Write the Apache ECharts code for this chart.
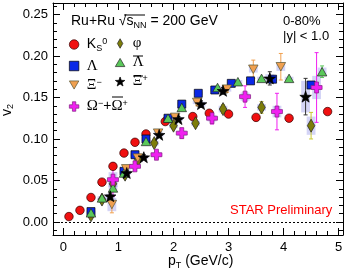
<!DOCTYPE html>
<html><head><meta charset="utf-8">
<script src="https://cdn.jsdelivr.net/npm/echarts@6/dist/echarts.min.js"></script>
<style>html,body{margin:0;padding:0;background:#fff}#c{width:354px;height:276px}</style>
</head><body><div id="c"></div>
<script>
// ---- data ----
const K0s_pt   = [0.1,0.3,0.5,0.7,0.9,1.1,1.3,1.5,1.85,2.35,2.65,3.0,3.5,4.1,4.8];
const K0s_v2   = [0.0065,0.014,0.0295,0.048,0.067,0.083,0.096,0.106,0.121,0.127,0.131,0.130,0.126,0.125,0.133];
const K0s_err  = [0,0,0,0,0,0,0,0,0,0,0,0,0,0,0];
const K0s_sys  = [0,0,0,0,0,0,0,0,0,0,0,0,0,0,0];

const phi_pt   = [0.5,0.7,0.9,1.12,1.36,1.65,2.0,2.4,2.9,3.6,4.5];
const phi_v2   = [0.008,0.027,0.046,0.057,0.075,0.095,0.116,0.119,0.136,0.138,0.116];
const phi_err  = [0.002,0.002,0.003,0.003,0.003,0.003,0.003,0.004,0.005,0.007,0.016];
const phi_sys  = [0.002,0.002,0.004,0.003,0.003,0.003,0.003,0.003,0.004,0.004,0.011];

const Lam_pt   = [0.5,1.1,1.3,1.5,1.9,2.15,2.45,2.75,3.05,3.4,3.8,4.5];
const Lam_v2   = [0.0125,0.061,0.081,0.100,0.125,0.142,0.155,0.159,0.167,0.170,0.172,0.165];
const Lam_err  = [0,0,0,0,0,0,0,0,0,0,0,0];
const Lam_sys  = [0.002,0.002,0.002,0.002,0.002,0.002,0.002,0.002,0.002,0.002,0.002,0.003];

const aLam_pt  = [0.5,0.7,0.9,1.1,1.5,1.9,2.15,2.8,3.17,3.6,4.1,4.7];
const aLam_v2  = [0.011,0.029,0.041,0.059,0.097,0.125,0.138,0.162,0.169,0.173,0.173,0.181];
const aLam_err = [0,0,0,0,0,0,0,0,0,0,0,0.007];
const aLam_sys = [0.002,0.002,0.002,0.002,0.002,0.002,0.002,0.002,0.002,0.002,0.002,0.005];

const Xim_pt   = [0.88,1.14,1.35,1.72,2.03,2.43,2.97,3.45,3.95];
const Xim_v2   = [0.021,0.064,0.077,0.107,0.126,0.144,0.160,0.184,0.187];
const Xim_err  = [0.010,0.004,0.003,0.003,0.003,0.004,0.004,0.011,0.016];
const Xim_sys  = [0.008,0.003,0.002,0.002,0.002,0.002,0.003,0.004,0.005];

const Xip_pt   = [0.85,1.15,1.46,1.74,2.09,2.5,2.9,3.75,4.4];
const Xip_v2   = [0.031,0.059,0.078,0.105,0.124,0.142,0.158,0.173,0.151];
const Xip_err  = [0.004,0.003,0.003,0.003,0.003,0.004,0.004,0.008,0.022];
const Xip_sys  = [0.003,0.002,0.002,0.002,0.002,0.003,0.003,0.005,0.019];

const Om_pt    = [0.9,1.3,1.69,2.15,2.7,3.3,3.88,4.6];
const Om_v2    = [0.051,0.067,0.081,0.107,0.125,0.151,0.133,0.162];
const Om_err   = [0.020,0.004,0.004,0.006,0.007,0.013,0.022,0.042];
const Om_sys   = [0.009,0.003,0.003,0.003,0.004,0.005,0.007,0.014];

const xTickLabels = ['0','1','2','3','4','5'];
const yTickLabels = ['0.00','0.05','0.10','0.15','0.20','0.25'];

// ---- chart ----
const chart = echarts.init(document.getElementById('c'), null, {renderer:'canvas'});
const FONT = '"Liberation Sans", Arial, sans-serif';
const SERIF = '"Liberation Serif", "DejaVu Serif", serif';

const STAR = 'path://M0,-10L2.35,-3.24L9.51,-3.09L3.8,1.24L5.88,8.09L0,4L-5.88,8.09L-3.8,1.24L-9.51,-3.09L-2.35,-3.24Z';
const CROSS = 'path://M-3.2,-9H3.2V-3.2H9V3.2H3.2V9H-3.2V3.2H-9V-3.2H-3.2Z';
const DTRI = 'path://M-5,-4.3L5,-4.3L0,4.3Z';
const UTRI = 'path://M-5,4.3L5,4.3L0,-4.3Z';
const DIAM = 'path://M0,-7L4,0L0,7L-4,0Z';
const SQR = 'path://M-4,-4H4V4H-4Z';

const species = [
  {name:'K0s', pt:K0s_pt, v2:K0s_v2, err:K0s_err, sys:K0s_sys, symbol:'circle', size:8.5, color:'#f01010', border:'#300', ecol:'#f01010'},
  {name:'phi', pt:phi_pt, v2:phi_v2, err:phi_err, sys:phi_sys, symbol:DIAM, size:[7.5,13], color:'#7d7d0a', border:'#222', ecol:'#c8c832'},
  {name:'Lambda', pt:Lam_pt, v2:Lam_v2, err:Lam_err, sys:Lam_sys, symbol:SQR, size:8, color:'#0a28e6', border:'#000', ecol:'#0a28e6'},
  {name:'antiLambda', pt:aLam_pt, v2:aLam_v2, err:aLam_err, sys:aLam_sys, symbol:UTRI, size:[9.5,8.5], color:'#5ac85a', border:'#222', ecol:'#5ac85a'},
  {name:'Xim', pt:Xim_pt, v2:Xim_v2, err:Xim_err, sys:Xim_sys, symbol:DTRI, size:[9.5,8.5], color:'#f0a050', border:'#553', ecol:'#f0a050'},
  {name:'Xip', pt:Xip_pt, v2:Xip_v2, err:Xip_err, sys:Xip_sys, symbol:STAR, size:[11.5,11], color:'#000', border:'#000', ecol:'#333'},
  {name:'Omega', pt:Om_pt, v2:Om_v2, err:Om_err, sys:Om_sys, symbol:CROSS, size:11, color:'#f020f0', border:'#802080', ecol:'#f020f0'}
];

const series = [];
species.forEach(s => {
  series.push({
    type:'custom', name:s.name+'_sys', z:1, silent:true,
    data: s.pt.map((x,i)=>[x, s.v2[i], s.sys[i]]),
    renderItem:(params, api) => {
      const x=api.value(0), y=api.value(1), e=api.value(2);
      if (!e) return null;
      const a = api.coord([x-0.08, y+e]), b = api.coord([x+0.08, y-e]);
      return {type:'rect', shape:{x:a[0], y:a[1], width:b[0]-a[0], height:b[1]-a[1]},
              style:{fill:'rgba(160,160,235,0.45)'}};
    }
  });
});
species.forEach(s => {
  series.push({
    type:'custom', name:s.name+'_err', z:2, silent:true,
    data: s.pt.map((x,i)=>[x, s.v2[i], s.err[i]]),
    renderItem:(params, api) => {
      const x=api.value(0), y=api.value(1), e=api.value(2);
      if (!e) return null;
      const a = api.coord([x, y+e]), b = api.coord([x, y-e]);
      const st = {stroke:s.ecol, lineWidth:1};
      return {type:'group', children:[
        {type:'line', shape:{x1:a[0], y1:a[1], x2:b[0], y2:b[1]}, style:st},
        {type:'line', shape:{x1:a[0]-2, y1:a[1], x2:a[0]+2, y2:a[1]}, style:st},
        {type:'line', shape:{x1:b[0]-2, y1:b[1], x2:b[0]+2, y2:b[1]}, style:st}
      ]};
    }
  });
});
species.forEach((s, k) => {
  const ser = {
    type:'scatter', name:s.name, z:3+k,
    data: s.pt.map((x,i)=>[x, s.v2[i]]),
    symbol:s.symbol, symbolSize:s.size,
    itemStyle:{color:s.color, borderColor:s.border, borderWidth:0.7, opacity:1},
    emphasis:{disabled:true}
  };
  if (k===0) {
    ser.markLine = {silent:true, symbol:'none', label:{show:false},
      lineStyle:{type:[2,2], color:'#000', width:1}, data:[{yAxis:0}]};
  }
  series.push(ser);
});

const rich = {
  g:{fontFamily:SERIF, fontSize:15, color:'#000', lineHeight:14},
  n:{fontFamily:FONT, fontSize:14, color:'#000', lineHeight:14},
  sup:{fontFamily:FONT, fontSize:9, color:'#000', verticalAlign:'top', padding:[0,0,8,0], lineHeight:14},
  sub:{fontFamily:FONT, fontSize:9, color:'#000', padding:[8,0,0,0], lineHeight:14}
};
const legendText = {
  K0s:'{n|K}{sub|S}{sup|0}',
  phi:'{g|φ}',
  Lambda:'{g|Λ}',
  antiLambda:'{g|Λ}',
  Xim:'{g|Ξ}{sup|−}',
  Xip:'{g|Ξ}{sup|+}',
  Omega:'{g|Ω}{sup|−}{n|+}{g|Ω}{sup|+}'
};
const legendIcons = {K0s:'circle', phi:DIAM, Lambda:SQR, antiLambda:UTRI, Xim:DTRI, Xip:STAR, Omega:CROSS};
const legendCommon = {
  orient:'vertical', itemGap:4, itemWidth:9.5, itemHeight:9.5, selectedMode:false, symbolKeepAspect:true,
  itemStyle:{borderWidth:0.7},
  formatter: n => legendText[n], textStyle:{rich:rich, fontSize:14, padding:[0,0,0,3]}, padding:0
};

const axisCommon = {
  axisLine:{show:true, onZero:false, lineStyle:{color:'#000', width:1}},
  axisTick:{show:true, inside:true, length:7, lineStyle:{color:'#000'}},
  minorTick:{show:true, splitNumber:5, length:4, lineStyle:{color:'#000'}},
  splitLine:{show:false}
};

const ol = (x1,x2,y) => ({type:'line', shape:{x1:x1,y1:y,x2:x2,y2:y}, style:{stroke:'#000', lineWidth:1}});

chart.setOption({
  animation:false,
  backgroundColor:'#fff',
  grid:{left:53, top:3, width:290, height:232, containLabel:false},
  xAxis:[
    Object.assign({type:'value', position:'bottom', min:-0.19, max:5.08, minInterval:1, maxInterval:1, splitNumber:5,
      axisLabel:{show:true, margin:6, color:'#000', fontFamily:FONT, fontSize:13, showMinLabel:false, showMaxLabel:false,
        formatter: v => { const i = Math.round(v); return Math.abs(v-i)<1e-6 && i>=0 && i<xTickLabels.length ? xTickLabels[i] : ''; }}}, axisCommon),
    Object.assign({type:'value', position:'top', min:-0.19, max:5.08, minInterval:1, maxInterval:1, splitNumber:5,
      axisLabel:{show:false}}, axisCommon)
  ],
  yAxis:[
    Object.assign({type:'value', position:'left', min:-0.0157, max:0.2638, minInterval:0.05, maxInterval:0.05, splitNumber:5,
      axisLabel:{show:true, margin:5, color:'#000', fontFamily:FONT, fontSize:13, showMinLabel:false, showMaxLabel:false,
        formatter: v => { const i = Math.round(v/0.05); return Math.abs(v-i*0.05)<1e-6 && i>=0 && i<yTickLabels.length ? yTickLabels[i] : ''; }}}, axisCommon),
    Object.assign({type:'value', position:'right', min:-0.0157, max:0.2638, minInterval:0.05, maxInterval:0.05, splitNumber:5,
      axisLabel:{show:false}}, axisCommon)
  ],
  legend:[
    Object.assign({data:['K0s','Lambda','Xim','Omega'].map(n=>({name:n, icon:legendIcons[n]})), left:69, top:36}, legendCommon),
    Object.assign({data:['phi','antiLambda','Xip'].map(n=>({name:n, icon:legendIcons[n]})), left:115, top:36}, legendCommon)
  ],
  graphic:[
    {type:'text', left:71, top:13, style:{rich:rich, text:'{n|Ru+Ru }{n|√}{n|s}{sub|NN}{n| = 200 GeV}'}},
    {type:'text', left:283, top:15, style:{text:'0-80%', font:'13px '+FONT, fill:'#000'}},
    {type:'text', left:283, top:30, style:{text:'|y| < 1.0', font:'13px '+FONT, fill:'#000'}},
    {type:'text', left:230, top:204, style:{text:'STAR Preliminary', font:'13px '+FONT, fill:'#f00'}},
    {type:'text', left:168, top:253, style:{rich:rich, text:'{n|p}{sub|T}{n| (GeV/c)}'}},
    {type:'text', x:0, y:116, rotation:Math.PI/2, style:{rich:rich, text:'{n|v}{sub|2}'}},
    ol(124,145,15),
    ol(133,143,56),
    ol(133,143,76),
    ol(112,123,97)
  ],
  series:series
});
</script>
</body></html>
